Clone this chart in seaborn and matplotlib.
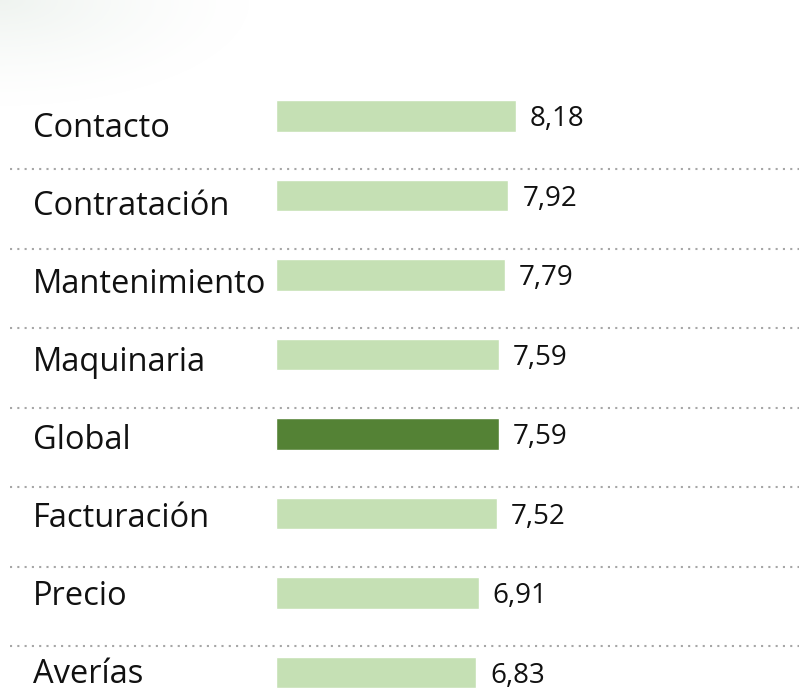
import matplotlib

matplotlib.use("Agg")
import matplotlib.pyplot as plt
import numpy as np
import pandas as pd
import seaborn as sns

# Satisfaction score per area (Spanish decimal comma in labels)
categories = ["Contacto", "Contratación", "Mantenimiento", "Maquinaria",
              "Global", "Facturación", "Precio", "Averías"]
scores = [8.18, 7.92, 7.79, 7.59, 7.59, 7.52, 6.91, 6.83]

LIGHT = "#C5E0B4"
DARK = "#548235"
GRID = "#A6A6A6"

sns.set_theme(style="white")
plt.rcParams["font.family"] = ["Open Sans", "DejaVu Sans"]

df = pd.DataFrame({"area": categories, "score": scores})
palette = {c: (DARK if c == "Global" else LIGHT) for c in categories}

fig = plt.figure(figsize=(7.99, 6.90), dpi=100)

# faint decorative wash in the top-left corner
yy, xx = np.mgrid[0:110, 0:260]
fade = np.clip(1 - np.hypot(xx / 260, yy / 110), 0, 1) ** 1.5
wash = np.zeros((110, 260, 4))
wash[..., :3] = (0.86, 0.90, 0.87)
wash[..., 3] = 0.45 * fade
fig.figimage(wash, xo=0, yo=690 - 110, origin="upper", zorder=0)

ax = fig.add_axes([0, 0, 1, 1])
ax.patch.set_alpha(0)
sns.barplot(data=df, x="score", y="area", hue="area", palette=palette,
            width=0.4, legend=False, saturation=1, ax=ax)

ax.set_xlim(-9.40, 17.82)
ax.set_ylim(7.22, -1.46)

for i, (cat, val) in enumerate(zip(categories, scores)):
    # category labels sit a touch lower than the bars near the top
    ax.text(-8.28, i + 0.26 - 0.019 * i, cat, ha="left", va="baseline",
            fontsize=23.5, color="#111111")
    ax.text(val + 0.48, i + 0.126, f"{val:.2f}".replace(".", ","),
            ha="left", va="baseline", fontsize=20, color="#111111")
    if i < len(categories) - 1:
        ax.axhline(i + 0.667, xmin=0.012, xmax=1, color=GRID,
                   linewidth=1.5, linestyle=(0, (1, 2.5)))

ax.set_axis_off()
fig.savefig("out.png", dpi=100)
